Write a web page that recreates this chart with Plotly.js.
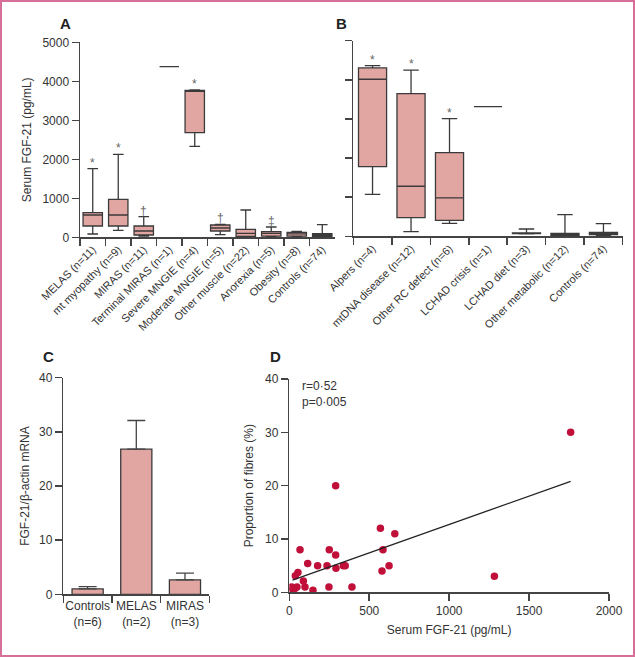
<!DOCTYPE html>
<html>
<head>
<meta charset="utf-8">
<script src="https://cdn.plot.ly/plotly-3.0.1.min.js"></script>
<style>html,body{margin:0;padding:0;background:#fff}#chart{width:635px;height:657px}</style>
</head>
<body>
<div id="chart"></div>
<script>
// ---------- Panel A data ----------
var catsA = ["MELAS (n=11)", "mt myopathy (n=9)", "MIRAS (n=11)", "Terminal MIRAS (n=1)", "Severe MNGIE (n=4)",
  "Moderate MNGIE (n=5)", "Other muscle (n=22)", "Anorexia (n=5)", "Obesity (n=8)", "Controls (n=74)"];
var minA = [85, 180, 33, 4374, 2333, 67, 15, 20, 20, 10];
var q1A  = [290, 290, 59, 4374, 2682, 162, 26, 30, 30, 26];
var medA = [572, 572, 162, 4374, 3760, 238, 103, 103, 90, 59];
var q3A  = [631, 974, 290, 4374, 3769, 315, 205, 144, 128, 92];
var maxA = [1759, 2128, 528, 4374, 3777, 333, 700, 264, 154, 323];
var sigA = ["*", "*", "†", "", "*", "†", "", "‡", "", ""];

// ---------- Panel B data ----------
var catsB = ["Alpers (n=4)", "mtDNA disease (n=12)", "Other RC defect (n=6)", "LCHAD crisis (n=1)",
  "LCHAD diet (n=3)", "Other metabolic (n=12)", "Controls (n=74)"];
var minB = [1074, 118, 332, 3315, 60, 10, 10];
var q1B  = [1780, 476, 409, 3315, 70, 26, 41];
var medB = [4015, 1279, 980, 3315, 77, 40, 60];
var q3B  = [4304, 3647, 2138, 3315, 85, 77, 102];
var maxB = [4363, 4246, 3008, 3315, 187, 552, 322];
var sigB = ["*", "*", "*", "", "", "", ""];

// ---------- Panel C data ----------
var catsC = ["Controls<br>(n=6)", "MELAS<br>(n=2)", "MIRAS<br>(n=3)"];
var meanC = [1.0, 26.8, 2.65];
var errC  = [0.4, 5.3, 1.25];

// ---------- Panel D data ----------
var fgfD   = [1760, 290, 570, 660, 67, 250, 586, 290, 115, 177, 236, 338, 350, 624, 292, 580, 54, 38, 88, 98, 15, 22, 35, 48, 248, 392, 148, 1283];
var fibreD = [30, 20, 12, 11, 8, 8, 8, 7, 5.4, 5, 5, 5, 5, 5, 4.5, 4, 3.7, 3.1, 2.1, 1, 1, 0.5, 0.7, 1, 1, 1, 0.4, 3];
var fitX = [20, 1760];
var fitY = [2.3, 20.8];

var FONT = "Liberation Sans, Arial, sans-serif";
var TXT = "#333";
var AXC = "#444";
var BOXFILL = "rgb(226,166,162)";
var BOXLINE = "#3a3a3a";
var DOT = "rgb(192,16,58)";
var W = 635, H = 657;
function px(x){return x / W;}
function py(y){return 1 - y / H;}

var traces = [
  {type: "box", x: catsA, q1: q1A, median: medA, q3: q3A, lowerfence: minA, upperfence: maxA,
   xaxis: "x", yaxis: "y", width: 0.76, whiskerwidth: 0.55, fillcolor: BOXFILL,
   line: {color: BOXLINE, width: 1.3}, hoverinfo: "skip", boxpoints: false},
  {type: "box", x: catsB, q1: q1B, median: medB, q3: q3B, lowerfence: minB, upperfence: maxB,
   xaxis: "x2", yaxis: "y2", width: 0.73, whiskerwidth: 0.55, fillcolor: BOXFILL,
   line: {color: BOXLINE, width: 1.3}, hoverinfo: "skip", boxpoints: false},
  {type: "bar", x: catsC, y: meanC, xaxis: "x3", yaxis: "y3", width: 0.64,
   marker: {color: BOXFILL, line: {color: BOXLINE, width: 1.3}},
   error_y: {type: "data", symmetric: false, array: errC, arrayminus: [0, 0, 0], width: 9, thickness: 1.3, color: AXC}},
  {type: "scatter", mode: "markers", x: fgfD, y: fibreD, xaxis: "x4", yaxis: "y4",
   marker: {color: DOT, size: 7.5}},
  {type: "scatter", mode: "lines", x: fitX, y: fitY, xaxis: "x4", yaxis: "y4",
   line: {color: "#222", width: 1.3}}
];

function baseAxis(extra){
  var a = {showline: true, linecolor: AXC, linewidth: 1.5, ticks: "outside", ticklen: 7, tickwidth: 1.5,
    tickcolor: AXC, showgrid: false, zeroline: false, automargin: false,
    tickfont: {family: FONT, size: 12, color: TXT}, fixedrange: true};
  for (var k in extra) a[k] = extra[k];
  return a;
}

var annotations = [];
function sig(labels, cats, tops, xr, yr){
  for (var i = 0; i < labels.length; i++){
    if (!labels[i]) continue;
    annotations.push({x: cats[i], y: tops[i], xref: xr, yref: yr, text: labels[i], showarrow: false,
      yanchor: "bottom", yshift: -3, font: {family: FONT, size: 12, color: "#666666"}});
  }
}
sig(sigA, catsA, maxA, "x", "y");
sig(sigB, catsB, maxB, "x2", "y2");

[["A", 65, 23.5], ["B", 341.5, 23.5], ["C", 48, 356], ["D", 275, 356]].forEach(function(p){
  annotations.push({x: px(p[1]), y: py(p[2]), xref: "paper", yref: "paper", text: "<b>" + p[0] + "</b>",
    showarrow: false, xanchor: "center", yanchor: "middle", font: {family: FONT, size: 15, color: "#222"}});
});
annotations.push({x: px(300), y: py(377), xref: "paper", yref: "paper", text: "r=0·52<br>p=0·005",
  showarrow: false, xanchor: "left", yanchor: "top", align: "left", font: {family: FONT, size: 12, color: TXT}});

var layout = {
  width: W, height: H, margin: {l: 0, r: 0, t: 0, b: 0},
  paper_bgcolor: "#fff", plot_bgcolor: "#fff", showlegend: false,
  font: {family: FONT, size: 12, color: TXT},
  xaxis: baseAxis({domain: [px(80), px(335)], anchor: "y", type: "category", range: [-0.5, 9.5],
    tickson: "boundaries", tickangle: -45, tickfont: {family: FONT, size: 11, color: TXT}}),
  yaxis: baseAxis({domain: [py(237.3), py(42.3)], anchor: "x", range: [0, 5000], tickvals: [0, 1000, 2000, 3000, 4000, 5000],
    title: {text: "Serum FGF-21 (pg/mL)", standoff: 8, font: {family: FONT, size: 12, color: TXT}}}),
  xaxis2: baseAxis({domain: [px(353.3), px(622.7)], anchor: "y2", type: "category", range: [-0.5, 6.5],
    tickson: "boundaries", tickangle: -45, tickfont: {family: FONT, size: 11, color: TXT}}),
  yaxis2: baseAxis({domain: [py(236.3), py(40.7)], anchor: "x2", range: [0, 5000], tickvals: [0, 1000, 2000, 3000, 4000, 5000],
    showticklabels: false}),
  xaxis3: baseAxis({domain: [px(63.3), px(209.3)], anchor: "y3", type: "category", range: [-0.5, 2.5],
    tickson: "boundaries", tickangle: 0}),
  yaxis3: baseAxis({domain: [py(594.3), py(377.7)], anchor: "x3", range: [0, 40], tickvals: [0, 10, 20, 30, 40],
    title: {text: "FGF-21/β-actin mRNA", standoff: 7, font: {family: FONT, size: 12, color: TXT}}}),
  xaxis4: baseAxis({domain: [px(289.3), px(609)], anchor: "y4", range: [0, 2000], tickvals: [0, 500, 1000, 1500, 2000],
    title: {text: "Serum FGF-21 (pg/mL)", standoff: 8, font: {family: FONT, size: 12, color: TXT}}}),
  yaxis4: baseAxis({domain: [py(592.3), py(379)], anchor: "x4", range: [0, 40], tickvals: [0, 10, 20, 30, 40],
    title: {text: "Proportion of fibres (%)", standoff: 9, font: {family: FONT, size: 12, color: TXT}}}),
  annotations: annotations,
  shapes: [{type: "rect", xref: "paper", yref: "paper", x0: 1 / W, x1: 1 - 1 / W, y0: 1 / H, y1: 1 - 1 / H,
    line: {color: "rgb(214,112,152)", width: 2}, fillcolor: "rgba(0,0,0,0)", layer: "above"}]
};

Plotly.newPlot("chart", traces, layout, {staticPlot: true, displayModeBar: false});
</script>
</body>
</html>
